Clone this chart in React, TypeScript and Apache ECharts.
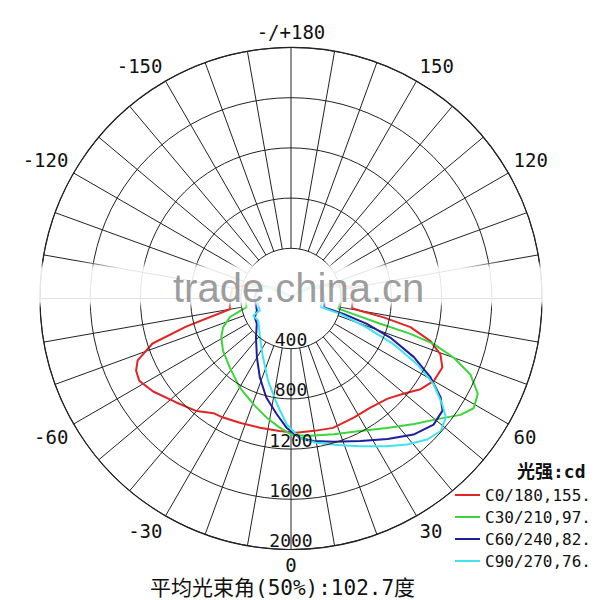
import React, { useEffect, useRef } from "react";
import * as echarts from "echarts";

// Angle axis tick labels (axis value -> label), gamma 0 at the bottom
const angleTicks = [0, 30, 60, 90, 120, 150, 180, 210, 240, 270, 300, 330];
const angleTickLabels = ["0", "30", "60", "", "120", "150", "-/+180", "-150", "-120", "", "-60", "-30"];

// Intensity ring values (cd)
const radiusMax = 2000;
const radiusStep = 400;

const seriesNames = ["C0/180,155.", "C30/210,97.", "C60/240,82.", "C90/270,76."];
const seriesColors = ["#e12525", "#3bd63b", "#1e1e9e", "#3fe3ee"];

// C0/180
const c0Angles = [-180, -140, -120, -110, -100, -90, -80, -75, -72, -68, -65, -61.5, -56, -48, -40, -34, -30, -22, -13.5, -5, 2, 10, 18, 28, 36, 44, 50, 55, 60, 65.5, 69.5, 73, 76.5, 78.5, 80, 81, 90, 100, 110, 120, 140, 180];
const c0Values = [10, 40, 160, 340, 475, 485, 495, 866, 1160, 1318, 1362, 1375, 1325, 1235, 1171, 1102, 1093, 1070, 1059, 1060, 1071, 1071, 1084, 1072, 1075, 1109, 1178, 1260, 1314, 1325, 1271, 1162, 979, 753, 560, 493, 490, 500, 350, 160, 40, 10];

// C30/210
const c30Angles = [-180, -140, -120, -115, -104, -90, -79, -73, -67, -61, -52.5, -41.5, -30, -19.5, -11.5, -5, 0, 6.5, 17.5, 27.5, 36.5, 44.5, 50.5, 55.5, 59, 63, 67, 70, 72.3, 73.5, 74.2, 76, 78, 90, 102, 115, 120, 140, 180];
const c30Values = [10, 30, 120, 250, 355, 360, 361, 510, 588, 635, 683, 735, 818, 895, 969, 1033, 1083, 1103, 1134, 1191, 1283, 1401, 1511, 1637, 1698, 1670, 1554, 1381, 1195, 993, 740, 513, 387, 400, 417, 250, 150, 30, 10];

// C60/240
const c60Angles = [-180, -140, -125, -108, -90, -70.5, -62.5, -53.5, -42, -30, -21.5, -14, -7, -2, 3.5, 9, 16.5, 26, 34.5, 42, 48.5, 53.5, 56.5, 60.5, 64.5, 68.5, 71.5, 73.7, 75, 90, 109, 125, 140, 180];
const c60Values = [5, 30, 150, 280, 290, 288, 325, 339, 417, 543, 677, 813, 929, 1030, 1112, 1150, 1191, 1263, 1359, 1459, 1517, 1502, 1430, 1278, 1085, 850, 638, 436, 275, 265, 263, 150, 30, 5];

// C90/270
const c90Angles = [-180, -140, -125, -108, -90, -69, -65.5, -56, -38.5, -25.5, -15.5, -7.5, -2, 3.5, 10, 17.5, 25, 33, 38.5, 44, 48.5, 52.5, 55, 59, 62.5, 66, 69, 72.7, 74, 90, 110, 125, 140, 180];
const c90Values = [5, 30, 150, 270, 275, 266, 331, 315, 397, 519, 681, 850, 1003, 1112, 1168, 1224, 1299, 1403, 1486, 1562, 1593, 1555, 1471, 1327, 1133, 895, 648, 411, 246, 255, 250, 150, 30, 5];

const titleText = "平均光束角(50%):102.7度";
const unitText = "光强:cd";
const watermarkText = "trade.china.cn";

const MONO = "'DejaVu Sans Mono', 'Noto Sans CJK SC', monospace";

export default function App() {
  const ref = useRef<HTMLDivElement>(null);

  useEffect(() => {
    if (!ref.current) return;
    const chart = echarts.init(ref.current, undefined, { renderer: "svg" });
    const toAxis = (a: number) => (a + 360) % 360;
    const build = (angles: number[], values: number[]) =>
      angles.map((a, i) => [values[i], toAxis(a)]);
    const allAngles = [c0Angles, c30Angles, c60Angles, c90Angles];
    const allValues = [c0Values, c30Values, c60Values, c90Values];

    const center = [291, 298.5];
    const R = 251;
    const innerR = (radiusStep / radiusMax) * R;

    const option: any = {
      animation: false,
      backgroundColor: "#ffffff",
      title: [
        {
          text: titleText,
          left: 150,
          top: 577,
          padding: 0,
          textStyle: { fontSize: 21, fontWeight: "normal", fontFamily: MONO, color: "#111" },
        },
        {
          text: unitText,
          left: 517,
          top: 462,
          padding: 0,
          textStyle: { fontSize: 18, fontWeight: "bold", fontFamily: MONO, color: "#111" },
        },
      ],
      legend: {
        orient: "vertical",
        left: 455,
        top: 487,
        padding: 0,
        itemWidth: 25,
        itemHeight: 2,
        itemGap: 6,
        icon: "rect",
        selectedMode: false,
        data: seriesNames,
        textStyle: { fontSize: 16, fontFamily: MONO, color: "#111" },
      },
      polar: [
        { center, radius: R },
        { center, radius: [innerR, R] },
      ],
      angleAxis: [
        {
          polarIndex: 0,
          type: "value",
          min: 0,
          max: 360,
          interval: 30,
          startAngle: 270,
          clockwise: false,
          axisLine: { show: true, lineStyle: { color: "#222", width: 1.2 } },
          axisTick: { show: false },
          splitLine: { show: false },
          axisLabel: {
            margin: 6,
            fontSize: 19,
            fontFamily: MONO,
            color: "#111",
            formatter: (v: number) => {
              const i = angleTicks.indexOf(v);
              return i >= 0 ? angleTickLabels[i] : "";
            },
          },
        },
        {
          polarIndex: 1,
          type: "value",
          min: 0,
          max: 360,
          interval: 10,
          startAngle: 270,
          clockwise: false,
          axisLine: { show: false },
          axisTick: { show: false },
          axisLabel: { show: false },
          splitLine: { show: true, lineStyle: { color: "#222", width: 1 } },
        },
      ],
      radiusAxis: [
        {
          polarIndex: 0,
          type: "value",
          min: 0,
          max: radiusMax,
          interval: radiusStep,
          axisLine: { show: false },
          axisTick: { show: false },
          splitLine: { show: true, lineStyle: { color: "#222", width: 1 } },
          axisLabel: {
            margin: 0,
            align: "center",
            verticalAlign: "bottom",
            fontSize: 18,
            fontFamily: MONO,
            color: "#111",
            formatter: (v: number) => (v === 0 ? "" : String(v)),
          },
          z: 5,
        },
        {
          polarIndex: 1,
          type: "value",
          min: 0,
          max: 1,
          show: false,
        },
      ],
      series: seriesNames.map((name, k) => ({
        name,
        type: "line",
        coordinateSystem: "polar",
        polarIndex: 0,
        symbol: "none",
        smooth: false,
        color: seriesColors[k],
        lineStyle: { width: 2, color: seriesColors[k] },
        data: build(allAngles[k], allValues[k]),
        z: 3,
      })),
      graphic: [
        {
          type: "rect",
          z: 100,
          silent: true,
          shape: { x: 0, y: 261, width: 600, height: 48 },
          style: {
            fill: new echarts.graphic.LinearGradient(0, 0, 0, 1, [
              { offset: 0, color: "rgba(255,255,255,0)" },
              { offset: 0.15, color: "rgba(255,255,255,0.88)" },
              { offset: 0.85, color: "rgba(255,255,255,0.88)" },
              { offset: 1, color: "rgba(255,255,255,0)" },
            ]),
          },
        },
        {
          type: "text",
          z: 101,
          silent: true,
          x: 173,
          y: 268,
          style: {
            text: watermarkText,
            fontSize: 40,
            fontFamily: "'Liberation Sans', Arial, sans-serif",
            fill: "rgba(125,125,125,0.75)",
            textVerticalAlign: "top",
          },
        },
      ],
    };
    chart.setOption(option);
    return () => chart.dispose();
  }, []);

  return (
    <div
      ref={ref}
      style={{ position: "fixed", left: 0, top: 0, width: 600, height: 600 }}
    />
  );
}
